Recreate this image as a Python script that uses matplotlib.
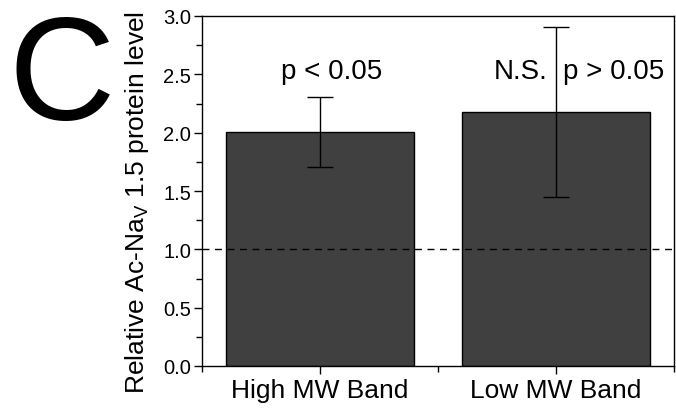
import numpy as np
import matplotlib.pyplot as plt
from matplotlib.ticker import MultipleLocator

plt.rcParams['font.family'] = ['Liberation Sans', 'DejaVu Sans']

# data
groups = ['High MW Band', 'Low MW Band']
means = [2.01, 2.18]
errs = [0.30, 0.73]

fig = plt.figure(figsize=(6.76, 4.10), dpi=100)
ax = fig.add_axes([202/676, 1 - 367/410, 472/676, 350/410])

x = np.array([1, 2])
ax.bar(x, means, width=0.8, color='#404040', edgecolor='black', linewidth=1.0, zorder=2)
ax.errorbar(x, means, yerr=errs, fmt='none', ecolor='black', elinewidth=1.0,
            capsize=9.5, capthick=1.0, zorder=3)
ax.axhline(1.0, color='black', linestyle=(0, (5, 4)), linewidth=1.0, zorder=4)

ax.text(1.05, 2.53, 'p < 0.05', ha='center', va='center', fontsize=20)
ax.text(1.85, 2.53, 'N.S.', ha='center', va='center', fontsize=20)
ax.text(2.03, 2.53, 'p > 0.05', ha='left', va='center', fontsize=20)

ax.set_xlim(0.5, 2.5)
ax.set_ylim(0, 3.0)
ax.set_xticks(x)
ax.set_xticklabels(groups, fontsize=19)
ax.xaxis.set_minor_locator(MultipleLocator(0.5))
ax.yaxis.set_major_locator(MultipleLocator(0.5))
ax.yaxis.set_minor_locator(MultipleLocator(0.25))
ax.yaxis.set_major_formatter(plt.FormatStrFormatter('%.1f'))
ax.tick_params(axis='y', labelsize=14.5, direction='out', length=6, width=1, pad=2)
ax.tick_params(axis='x', direction='out', length=6, width=1, pad=3)
ax.tick_params(which='minor', direction='out', length=4, width=1)
for s in ax.spines.values():
    s.set_linewidth(1.0)

fig.text(137/676, 1 - 202/410, 'Relative Ac-Na$_\\mathregular{V}$ 1.5 protein level',
         fontsize=19, rotation=90, ha='center', va='center')

fig.text(8/676, 1 - 120/410, 'C', fontsize=106, ha='left', va='baseline')

fig.savefig('out.png', dpi=100)
